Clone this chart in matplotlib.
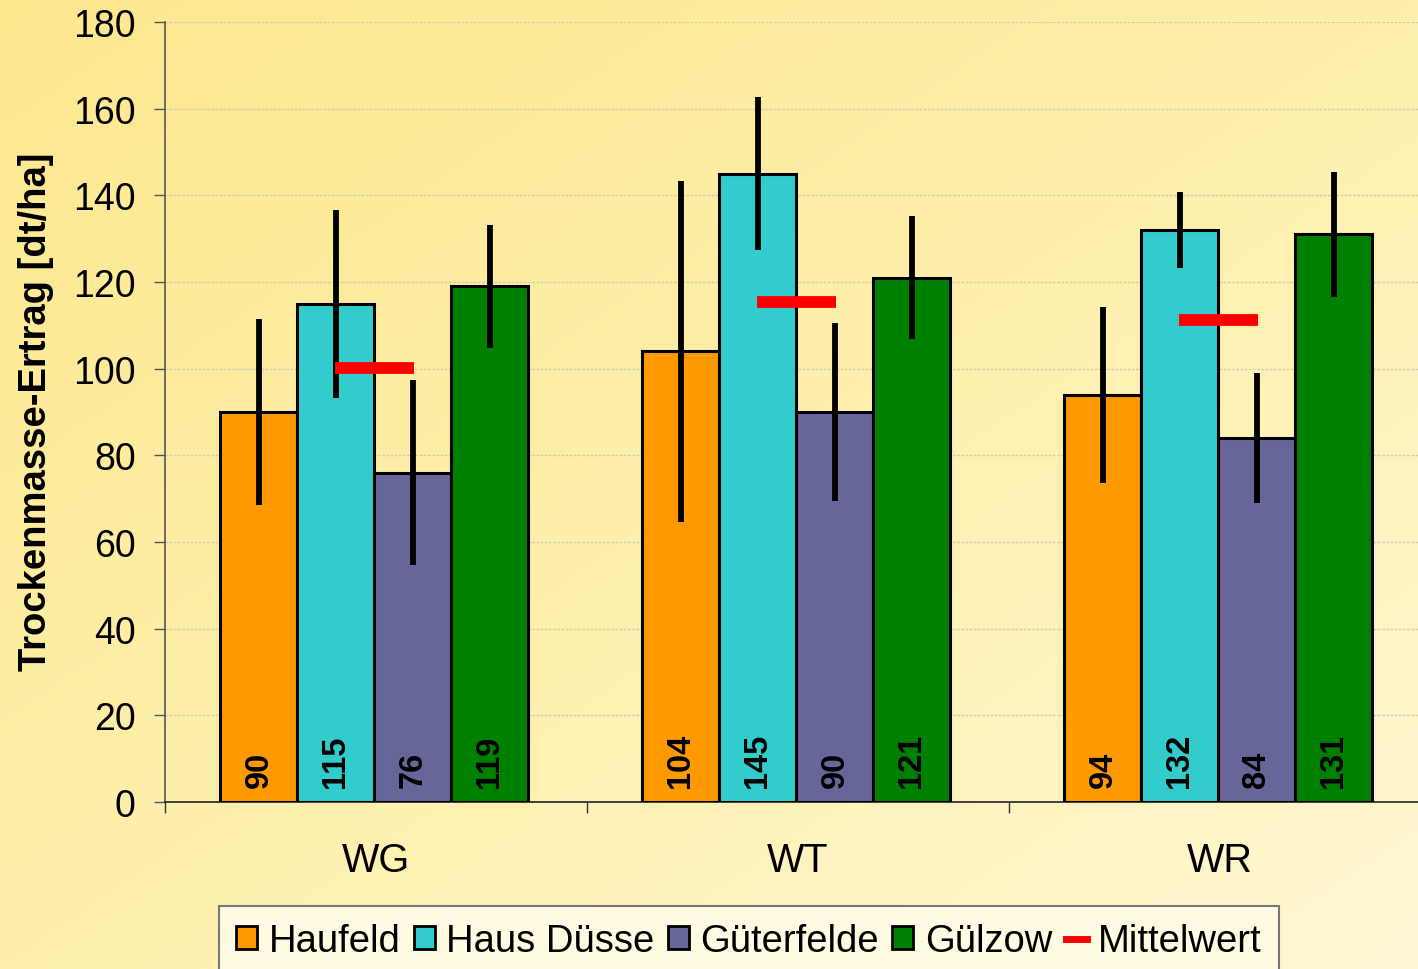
import numpy as np
import matplotlib
matplotlib.use("Agg")
import matplotlib.pyplot as plt
from matplotlib.patches import Patch
from matplotlib.lines import Line2D
from matplotlib.ticker import FixedLocator

plt.rcParams['font.family'] = ['Liberation Sans', 'DejaVu Sans']

# ---- data ----
categories = ["WG", "WT", "WR"]
series_names = ["Haufeld", "Haus Düsse", "Güterfelde", "Gülzow"]
haufeld = [90, 104, 94]
haus_duesse = [115, 145, 132]
gueterfelde = [76, 90, 84]
guelzow = [119, 121, 131]
haufeld_err = [21.5, 39.3, 20.3]
haus_duesse_err = [21.7, 17.6, 8.8]
gueterfelde_err = [21.3, 20.6, 14.9]
guelzow_err = [14.2, 14.2, 14.5]
mittelwert = [100.2, 115.3, 111.2]
y_ticks = [0, 20, 40, 60, 80, 100, 120, 140, 160, 180]

colors = ["#FF9900", "#33CCCC", "#666699", "#008000"]
mean_color = "#FF0000"

W, H = 1418, 970
fig = plt.figure(figsize=(W / 100, H / 100), dpi=100)

# background gradient
bg = fig.add_axes([0, 0, 1, 1], zorder=-10)
xx, yy = np.meshgrid(np.linspace(0, 1, 300), np.linspace(0, 1, 200))
t = (xx + yy) / 2
c0 = np.array([253, 232, 142]) / 255
c1 = np.array([254, 240, 172]) / 255
c2 = np.array([255, 247, 212]) / 255
img = np.where(t[..., None] < 0.5,
               c0 + (c1 - c0) * (t[..., None] / 0.5),
               c1 + (c2 - c1) * ((t[..., None] - 0.5) / 0.5))
bg.imshow(img, aspect='auto', extent=[0, 1, 0, 1], origin='upper')
bg.set_axis_off()

left = 165 / W
bottom = 1 - 803 / H
top = 1 - 23 / H
ax = fig.add_axes([left, bottom, 1266 / W, top - bottom])
ax.set_facecolor('none')

x = np.arange(len(categories))
bw = 77 / 422
shift = -1.5 / 422
series = [haufeld, haus_duesse, gueterfelde, guelzow]
errs = [haufeld_err, haus_duesse_err, gueterfelde_err, guelzow_err]
for i, (vals, er, col) in enumerate(zip(series, errs, colors)):
    pos = x + (i - 1.5) * bw + shift
    ax.bar(pos, vals, width=bw, color=col, edgecolor='black', linewidth=2.2, zorder=3)
    ax.errorbar(pos, vals, yerr=er, fmt='none', ecolor='black', elinewidth=4.2,
                capsize=0, zorder=5)
    for p, v in zip(pos, vals):
        ax.annotate(f"{v:.0f}", xy=(p, 0), xytext=(0, 11), textcoords='offset points',
                    rotation=90, ha='center', va='bottom', fontsize=23.5,
                    fontweight='bold', color='black', zorder=6)

half = 39.5 / 422
ax.hlines(mittelwert, x + shift - half, x + shift + half, colors=mean_color,
          linewidth=8.5, zorder=6)

ax.set_xlim(-0.5, 2.5)
ax.set_ylim(0, 180)
ax.set_yticks(y_ticks)
ax.tick_params(axis='y', labelsize=27, length=8, width=1, direction='out', pad=13,
               color='#555555')
ax.set_xticks(x)
ax.set_xticklabels(categories)
ax.tick_params(axis='x', which='major', length=0, labelsize=28.5, pad=28)
ax.xaxis.set_minor_locator(FixedLocator([-0.5, 0.5, 1.5]))
ax.tick_params(axis='x', which='minor', length=8, width=1, direction='out', color='#333333')

ax.grid(axis='y', color='#d2cdb0', linewidth=1.0, linestyle=(0, (2, 1)), zorder=0)
ax.set_axisbelow(True)
for s in ['top', 'right']:
    ax.spines[s].set_visible(False)
ax.spines['left'].set_color('#555555')
ax.spines['left'].set_linewidth(1.2)
ax.spines['bottom'].set_color('#222222')
ax.spines['bottom'].set_linewidth(1.2)

fig.text(36 / W, 1 - 412 / H, "Trockenmasse-Ertrag [dt/ha]", rotation=90,
         ha='center', va='center', fontsize=27.5, fontweight='bold')

handles = [Patch(facecolor=c, edgecolor='black', linewidth=2) for c in colors]
handles.append(Line2D([0], [0], color=mean_color, linewidth=5))
labels = series_names + ["Mittelwert"]
leg = fig.legend(handles, labels, loc='upper left', bbox_to_anchor=(219 / W, 1 - 907 / H),
                 ncol=5, fontsize=27.5, frameon=True, fancybox=False,
                 handlelength=0.55, handleheight=0.55, handletextpad=0.3,
                 columnspacing=0.35, borderpad=0.45, borderaxespad=0)
leg.get_frame().set_facecolor('#FFFBE2')
leg.get_frame().set_edgecolor('#777777')
leg.get_frame().set_linewidth(1.5)
leg.get_frame().set_alpha(1)

fig.savefig("out.png", dpi=100)
